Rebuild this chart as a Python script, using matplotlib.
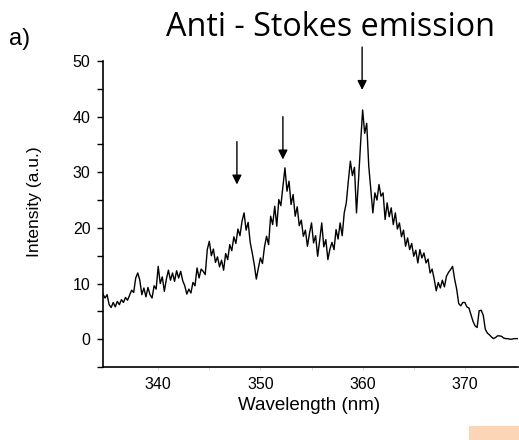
import numpy as np
import matplotlib.pyplot as plt
from matplotlib.patches import Rectangle

# spectrum sampled every 0.2 nm starting at 334.6 nm
wl_start = 334.6
wl_step = 0.2
intensity = [
    8.1, 7.4, 8.0, 6.2, 5.7, 6.6, 5.8, 6.8, 6.2, 7.1,
    6.6, 7.5, 7.0, 7.9, 8.8, 8.4, 11.0, 11.9, 10.6, 8.0,
    9.2, 7.6, 9.3, 8.0, 7.4, 9.6, 9.0, 13.1, 10.0, 11.2,
    8.6, 10.8, 12.4, 10.6, 11.9, 10.4, 12.3, 11.0, 12.2, 10.5,
    9.6, 8.1, 9.0, 8.3, 10.2, 9.6, 12.8, 11.0, 12.6, 12.2,
    11.6, 16.1, 17.6, 15.0, 16.2, 13.8, 14.8, 13.0, 14.2, 12.4,
    15.4, 14.3, 17.0, 15.9, 18.4, 17.2, 19.8, 18.6, 21.2, 22.7,
    19.6, 21.0, 17.4, 15.5, 13.4, 10.8, 12.8, 14.6, 13.6, 16.6,
    18.5, 17.0, 22.1, 20.6, 23.9, 20.3, 25.1, 24.0, 27.4, 30.8,
    26.6, 28.4, 24.2, 26.0, 22.1, 23.8, 20.4, 21.4, 18.5, 19.6,
    16.7, 19.0, 20.9, 17.3, 18.6, 14.9, 17.8, 20.9, 16.6, 17.9,
    14.3, 16.2, 17.4, 16.1, 19.7, 18.0, 20.9, 18.6, 22.7, 24.5,
    28.4, 32.0, 29.4, 30.9, 22.7, 28.7, 35.2, 41.2, 37.0, 38.8,
    31.1, 26.9, 22.7, 26.3, 25.0, 27.8, 25.7, 26.3, 21.5, 24.5,
    22.0, 23.6, 20.6, 22.7, 19.8, 20.9, 18.4, 19.6, 16.7, 18.2,
    16.1, 17.2, 14.9, 16.0, 13.7, 16.1, 14.6, 15.5, 13.7, 14.4,
    11.9, 12.6, 10.8, 8.7, 10.2, 9.2, 10.6, 9.4, 11.3, 12.0,
    12.5, 13.1, 10.8, 9.0, 6.4, 6.0, 6.6, 6.6, 5.8, 5.6,
    4.4, 3.2, 2.4, 2.1, 5.1, 5.2, 4.3, 1.8, 1.1, 0.8,
    0.4, 0.1, 0.3, 0.6, 0.6, 0.5, 0.2, 0.1, 0.1, 0.0,
    0.0, 0.1, 0.1, 0.1,
]
wavelength = wl_start + wl_step * np.arange(len(intensity))

# marked peaks: (wavelength, arrow top, arrow tip)
peak_wl = [347.7, 352.2, 359.95]
arrow_top = [35.5, 40.0, 52.5]
arrow_tip = [27.8, 32.3, 44.8]

W, H = 519, 440
fig = plt.figure(figsize=(W / 100, H / 100), dpi=100)
ax = fig.add_axes([103 / W, 1 - 367 / H, 415 / W, 306 / H])

ax.plot(wavelength, intensity, color='black', lw=1.0)

for x, y0, y1 in zip(peak_wl, arrow_top, arrow_tip):
    ax.annotate('', xy=(x, y1), xytext=(x, y0), annotation_clip=False,
                arrowprops=dict(arrowstyle='-|>', color='black', lw=1.0,
                                mutation_scale=14, shrinkA=0, shrinkB=0))

ax.set_xlim(334.6, 375.2)
ax.set_ylim(-5, 50)
ax.set_xticks([340, 350, 360, 370])
ax.set_xticks([345, 355, 365], minor=True)
ax.set_yticks([0, 10, 20, 30, 40, 50])
ax.set_yticks([-5, 5, 15, 25, 35, 45], minor=True)
ax.spines['top'].set_visible(False)
ax.spines['right'].set_visible(False)
ax.spines['left'].set_linewidth(1.2)
ax.spines['bottom'].set_linewidth(1.2)
ax.tick_params(axis='y', which='both', direction='out', length=4, width=1.0,
               labelsize=11.5, pad=5)
ax.tick_params(axis='x', which='both', length=2, width=0.6, color='#d0d0d0',
               labelsize=11.5, pad=5)
for lab in ax.get_xticklabels() + ax.get_yticklabels():
    lab.set_family('Liberation Sans')

fig.text(309 / W, 1 - 405 / H, 'Wavelength (nm)', ha='center', va='center',
         fontsize=13.5, family='Liberation Sans')
fig.text(35 / W, 1 - 202 / H, 'Intensity (a.u.)', ha='center', va='center',
         rotation=90, fontsize=12.5, family='Liberation Sans')
fig.text(330 / W, 1 - 27 / H, 'Anti - Stokes emission', ha='center', va='center',
         fontsize=23.3, family='Open Sans')
fig.text(9 / W, 1 - 39 / H, 'a)', ha='left', va='center',
         fontsize=17, family='Liberation Sans')

fig.patches.append(Rectangle((469 / W, 0), 50 / W, 14 / H, transform=fig.transFigure,
                             facecolor='#fbd5b5', edgecolor='none'))

fig.savefig('out.png', dpi=100)
